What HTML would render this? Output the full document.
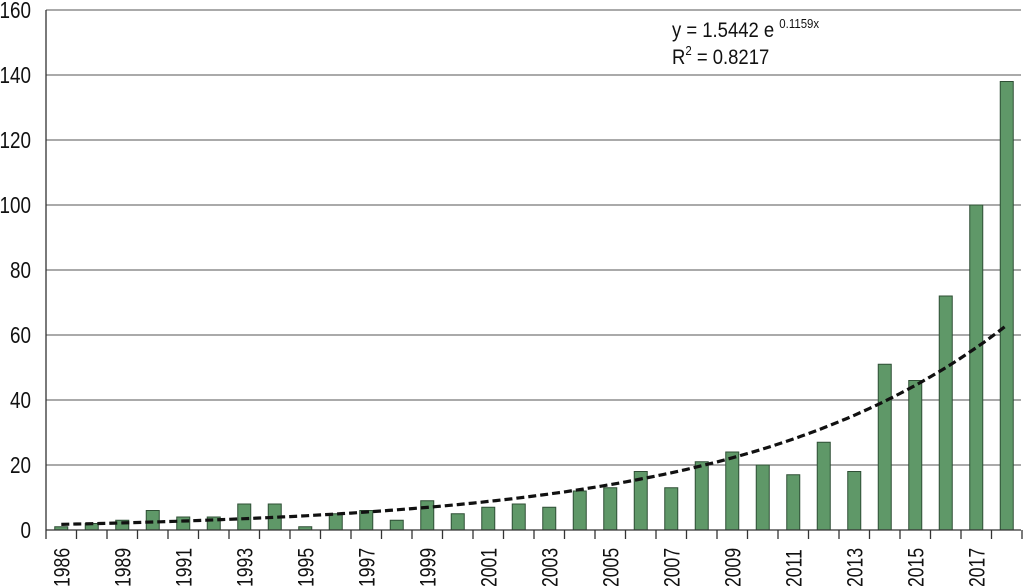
<!DOCTYPE html>
<html><head><style>body{margin:0;background:#fff}svg{display:block}</style></head><body>
<svg width="1024" height="586" xmlns="http://www.w3.org/2000/svg" font-family="Liberation Sans, Arial, sans-serif">
<g id="grid" stroke="#555" stroke-width="1"></g>
<g id="bars"></g>
<path id="trend" fill="none" stroke="#111" stroke-width="3.2" stroke-dasharray="8,4"/>
<g id="axes" stroke="#333" stroke-width="1.3"></g>
<g id="ylab" font-size="23" text-anchor="end" fill="#111"></g>
<g id="xlab" font-size="22" fill="#111"></g>
<g transform="translate(672,37) scale(0.88,1)">
<text x="0" y="0" font-size="21" fill="#111">y = 1.5442 e <tspan font-size="13" dy="-9">0.1159x</tspan></text>
<text x="0" y="27" font-size="21" fill="#111">R<tspan font-size="13" dy="-9">2</tspan><tspan dy="9"> = 0.8217</tspan></text>
</g>
<script>
const ns="http://www.w3.org/2000/svg";
function el(p,t,a,txt){const e=document.createElementNS(ns,t);for(const k in a)e.setAttribute(k,a[k]);if(txt!==undefined)e.textContent=txt;document.getElementById(p).appendChild(e);return e;}
const y0=530,sc=520/160,L=46,R=1021,sw=30.5;
for(let v=20;v<=160;v+=20){const y=y0-v*sc;el('grid','line',{x1:L,x2:R,y1:y,y2:y});}
for(let v=0;v<=160;v+=20){el('ylab','text',{x:0,y:0,transform:`translate(31,${y0-v*sc+8}) scale(0.82,1)`},v);}
const d=[1,2,3,6,4,4,8,8,1,5,6,3,9,5,7,8,7,12,13,18,13,21,24,20,17,27,18,51,46,72,100,138];
d.forEach((v,i)=>{const cx=L+sw*(i+0.5);el('bars','rect',{x:cx-6.5,y:y0-v*sc,width:13,height:v*sc,fill:'#5f9868',stroke:'#2f4f35','stroke-width':1});});
let p='';for(let i=0;i<=31;i+=0.25){const cx=L+sw*(i+0.5);const v=1.5442*Math.exp(0.1159*(i+1));p+=(i?'L':'M')+cx.toFixed(1)+','+(y0-v*sc).toFixed(1);}
document.getElementById('trend').setAttribute('d',p);
el('axes','line',{x1:L,x2:L,y1:10,y2:y0});el('axes','line',{x1:L,x2:R,y1:y0,y2:y0});
for(let i=0;i<=32;i++){const x=L+sw*i;el('axes','line',{x1:x,x2:x,y1:y0,y2:y0+9});}
const labs=['1986','1989','1991','1993','1995','1997','1999','2001','2003','2005','2007','2009','2011','2013','2015','2017'];
labs.forEach((t,k)=>{const cx=L+sw*(2*k+0.5)+8;el('xlab','text',{x:0,y:0,transform:`translate(${cx},587) rotate(-90) scale(0.8,1)`},t);});
</script>
</svg>
</body></html>
